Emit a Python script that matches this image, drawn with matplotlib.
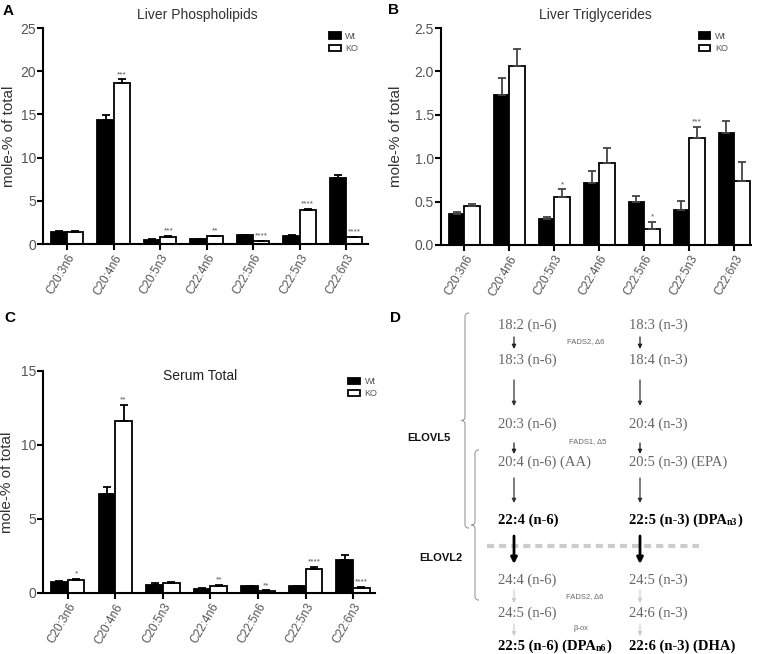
import numpy as np
import matplotlib
matplotlib.use('Agg')
import matplotlib.pyplot as plt

plt.rcParams['font.family'] = ['Liberation Sans', 'DejaVu Sans']

# fatty acids on the x axis
cats = ['C20:3n6', 'C20:4n6', 'C20:5n3', 'C22:4n6', 'C22:5n6', 'C22:5n3', 'C22:6n3']

# A - liver phospholipids
pl_wt = [1.4, 14.4, 0.5, 0.55, 1.0, 0.95, 7.6]
pl_wt_err = [0.05, 0.5, 0.05, 0.05, 0.05, 0.05, 0.4]
pl_ko = [1.4, 18.6, 0.85, 0.9, 0.3, 3.9, 0.8]
pl_ko_err = [0.05, 0.45, 0.05, 0.05, 0.05, 0.2, 0.05]
pl_sig = ['', '***', '***', '**', '****', '****', '****']

# B - liver triglycerides
tg_wt = [0.36, 1.73, 0.30, 0.71, 0.50, 0.40, 1.29]
tg_wt_err = [0.02, 0.19, 0.02, 0.14, 0.07, 0.11, 0.14]
tg_ko = [0.45, 2.06, 0.55, 0.94, 0.18, 1.23, 0.74]
tg_ko_err = [0.02, 0.20, 0.09, 0.18, 0.09, 0.13, 0.22]
tg_sig = ['', '', '*', '', '*', '***', '']

# C - serum total
se_wt = [0.75, 6.7, 0.55, 0.3, 0.45, 0.45, 2.25]
se_wt_err = [0.03, 0.45, 0.1, 0.03, 0.05, 0.03, 0.3]
se_ko = [0.9, 11.65, 0.7, 0.5, 0.15, 1.65, 0.35]
se_ko_err = [0.05, 1.05, 0.03, 0.03, 0.03, 0.1, 0.05]
se_sig = ['*', '**', '', '**', '**', '****', '****']

# D - pathway ("_" marks a subscript part)
n6_steps = ['18:2 (n-6)', '18:3 (n-6)', '20:3 (n-6)', '20:4 (n-6) (AA)', '22:4 (n-6)',
            '24:4 (n-6)', '24:5 (n-6)', '22:5 (n-6) (DPA_n6_)']
n3_steps = ['18:3 (n-3)', '18:4 (n-3)', '20:4 (n-3)', '20:5 (n-3) (EPA)',
            '22:5 (n-3) (DPA_n3_)', '24:5 (n-3)', '24:6 (n-3)', '22:6 (n-3) (DHA)']
bold_steps = [4, 7]
enzymes = ['FADS2, Δ6', 'FADS1, Δ5', 'FADS2, Δ6', 'β-ox']

W, H = 768, 654
fig = plt.figure(figsize=(W / 100, H / 100), dpi=100)

GRAY = '#555555'


def px_axes(l, r, t, b):
    return fig.add_axes([l / W, 1 - b / H, (r - l) / W, (b - t) / H])


def bar_panel(ax, wt, wt_err, ko, ko_err, sig, ymax, yticks, fmt, xright, ecol, ylab_x):
    x = np.arange(len(cats))
    w = 0.35
    z = np.zeros(len(cats))
    ekw = dict(capsize=3, elinewidth=1.3, capthick=1.3, ecolor=ecol)
    ax.bar(x - w / 2, wt, w, color='black', edgecolor='black', linewidth=1.3,
           yerr=[z, wt_err], error_kw=ekw, label='Wt')
    ax.bar(x + w / 2, ko, w, color='white', edgecolor='black', linewidth=1.3,
           yerr=[z, ko_err], error_kw=ekw, label='KO')
    for i, s in enumerate(sig):
        if s:
            ax.annotate(s, (x[i] + w / 2, ko[i] + ko_err[i]), xytext=(0, 1),
                        textcoords='offset points', ha='center', va='bottom',
                        fontsize=6, color=GRAY)
    ax.set_xlim(-0.52, xright)
    ax.set_ylim(0, ymax)
    ax.set_yticks(yticks)
    ax.set_yticklabels([fmt.format(v) for v in yticks])
    ax.set_xticks(x)
    ax.set_xticklabels(cats, rotation=60, ha='right', rotation_mode='anchor')
    for sp in ['top', 'right']:
        ax.spines[sp].set_visible(False)
    for sp in ['left', 'bottom']:
        ax.spines[sp].set_linewidth(1.5)
    ax.tick_params(axis='y', labelsize=10, labelcolor=GRAY, width=1.5, length=4, pad=1)
    ax.tick_params(axis='x', labelsize=8.5, labelcolor=GRAY, width=1.5, length=4, pad=2)
    ax.set_ylabel('mole-% of total', fontsize=11, color='#333333')
    ax.yaxis.set_label_coords(ylab_x, 0.5)


def legend(ax, bx, by):
    ax.legend(loc='upper left', bbox_to_anchor=(bx, by), frameon=False, fontsize=6.5,
              handlelength=1.3, handleheight=0.7, labelspacing=0.35, handletextpad=0.5,
              labelcolor=GRAY)


axA = px_axes(43, 368, 28, 244)
bar_panel(axA, pl_wt, pl_wt_err, pl_ko, pl_ko_err, pl_sig, 25, [0, 5, 10, 15, 20, 25],
          '{:.0f}', 6.47, 'black', -0.082)
legend(axA, 0.855, 1.02)

axB = px_axes(441, 751, 28, 245)
bar_panel(axB, tg_wt, tg_wt_err, tg_ko, tg_ko_err, tg_sig, 2.5, [0, 0.5, 1.0, 1.5, 2.0, 2.5],
          '{:.1f}', 6.37, '#444444', -0.122)
legend(axB, 0.805, 1.02)

axC = px_axes(43, 375, 371, 593)
bar_panel(axC, se_wt, se_wt_err, se_ko, se_ko_err, se_sig, 15, [0, 5, 10, 15],
          '{:.0f}', 6.46, 'black', -0.087)
legend(axC, 0.895, 1.01)

# overlay canvas in pixel units for titles, letters and the pathway
cv = fig.add_axes([0, 0, 1, 1])
cv.set_xlim(0, W)
cv.set_ylim(H, 0)
cv.axis('off')

for lab, (lx, ly) in zip('ABCD', [(3, 11), (388, 10), (4, 318), (390, 318)]):
    cv.text(lx, ly, lab, fontsize=11, fontweight='bold', va='center', ha='left')

cv.text(197, 15, 'Liver Phospholipids', fontsize=10, color='#333333', ha='center', va='center')
cv.text(595, 15, 'Liver Triglycerides', fontsize=10, color='#333333', ha='center', va='center')
cv.text(200, 376, 'Serum Total', fontsize=10, color='#222222', ha='center', va='center')


def step_text(x, y, label, bold):
    col = 'black' if bold else '#666666'
    wt = 'bold' if bold else 'normal'
    kw = dict(family='Liberation Serif', color=col, fontweight=wt)
    parts = label.split('_')
    t = cv.text(x, y, parts[0], fontsize=10.5, ha='left', va='center', **kw)
    if len(parts) == 3:
        s = cv.annotate(parts[1], xy=(1, 0), xycoords=t, ha='left', va='bottom',
                        fontsize=7, **kw)
        cv.annotate(')', xy=(1, 0), xycoords=s, ha='left', va='bottom', fontsize=10.5, **kw)


rows_y = [325, 360, 424, 462, 520, 580, 613, 646]
for i, y in enumerate(rows_y):
    step_text(498, y, n6_steps[i].replace(')_', '_'), i in bold_steps)
    step_text(629, y, n3_steps[i].replace(')_', '_'), i in bold_steps)

for name, (ex, ey) in zip(enzymes, [(567, 342), (569, 442), (566, 597), (574, 628)]):
    cv.text(ex, ey, name, fontsize=5.5, color='#666666', ha='left', va='center')

cv.text(407, 438, 'ELOVL5', fontsize=8, fontweight='bold', color='#111111', va='center')
cv.text(419, 558, 'ELOVL2', fontsize=8, fontweight='bold', color='#111111', va='center')

# arrows: (y_start, y_end, colour, linewidth)
arrows = [(337, 349, '#222222', 0.9), (380, 406, '#333333', 0.9), (443, 454, '#222222', 0.9),
          (478, 503, '#333333', 0.9), (536, 564, 'black', 2.0), (590, 603, '#cccccc', 0.8),
          (624, 636, '#cccccc', 0.8)]
for ax_x in [514, 640]:
    for y0, y1, c, lw in arrows:
        cv.annotate('', xy=(ax_x, y1), xytext=(ax_x, y0),
                    arrowprops=dict(arrowstyle='-|>', color=c, lw=lw,
                                    mutation_scale=6 if lw < 1.5 else 9,
                                    shrinkA=0, shrinkB=0))

cv.plot([487, 699], [546, 546], color='#cccccc', lw=3, dashes=(1.7, 1.2), zorder=0)


def brace(x, top, bot, depth=3.5):
    mid = (top + bot) / 2
    t = np.linspace(0, np.pi / 2, 10)
    xs, ys = [], []
    xs += list(x + depth * (1 - np.sin(t)))
    ys += list(top + depth * (1 - np.cos(t)))
    xs += [x, x]
    ys += [top + depth, mid - depth]
    xs += list(x - depth * (1 - np.cos(t)))
    ys += list(mid - depth + depth * np.sin(t))
    xs += list(x - depth + depth * np.sin(t))
    ys += list(mid + depth * (1 - np.cos(t)))
    xs += [x, x]
    ys += [mid + depth, bot - depth]
    xs += list(x + depth * (1 - np.cos(t)))
    ys += list(bot - depth + depth * np.sin(t))
    cv.plot(xs, ys, color='#999999', lw=0.8)


brace(465, 313, 528)
brace(475, 450, 600)

plt.savefig('out.png', dpi=100)
